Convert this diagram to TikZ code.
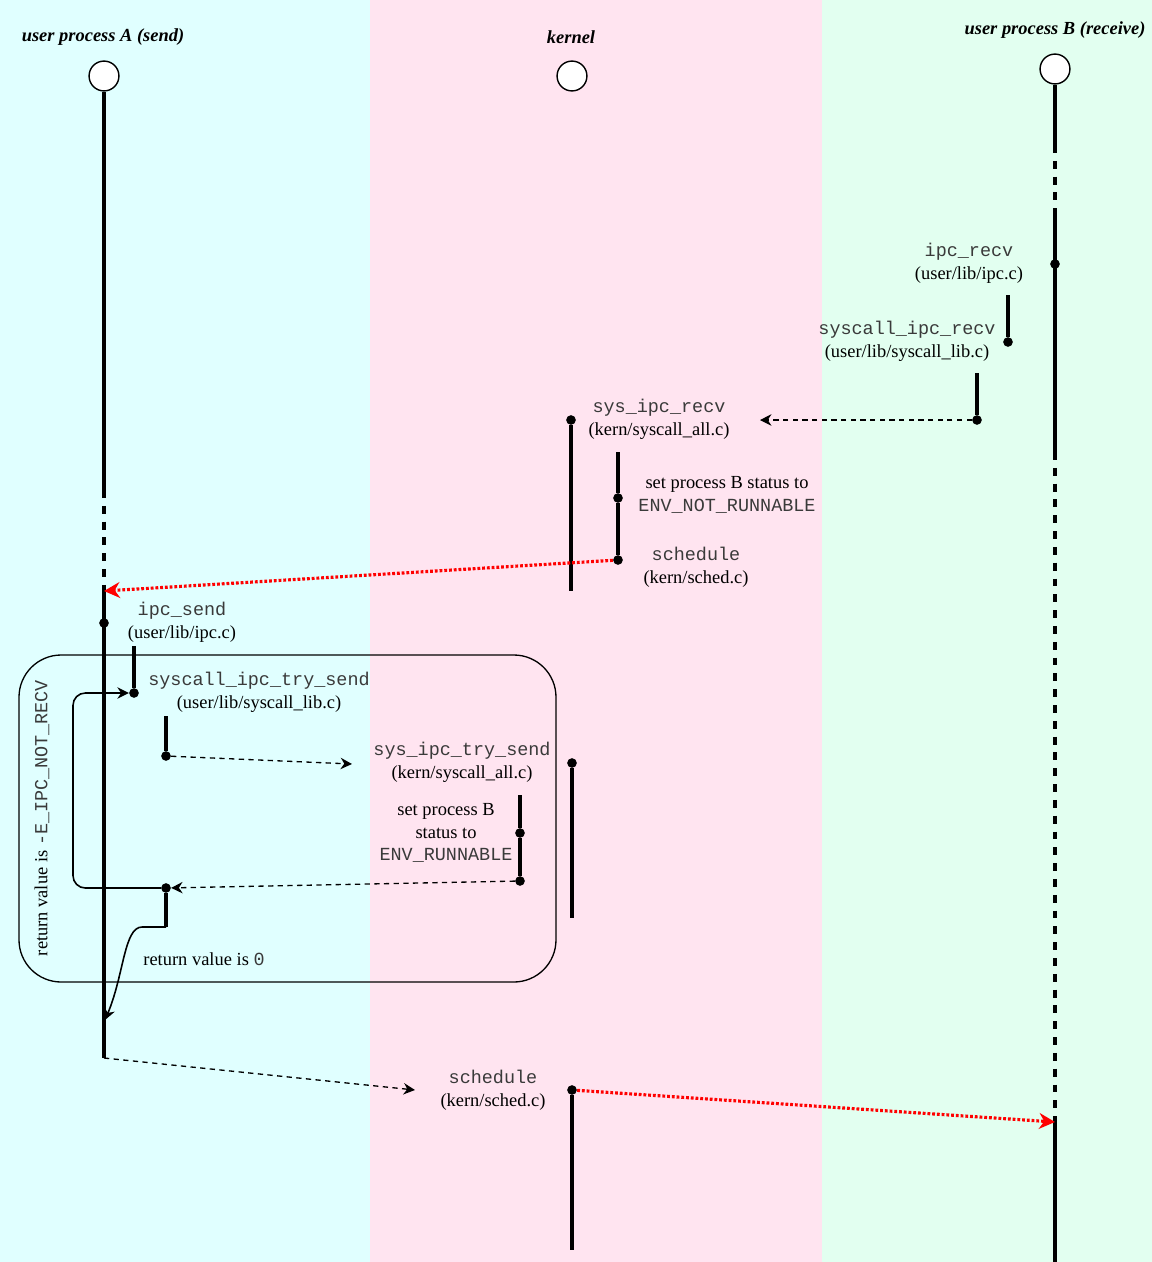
\documentclass[tikz,border=0pt]{standalone}
\usepackage{fontspec}
\setmainfont{Liberation Serif}
\setmonofont[Color=3A3A3A]{Liberation Mono}
\usetikzlibrary{arrows.meta}

\definecolor{userbg}{RGB}{224,255,255}
\definecolor{kernbg}{RGB}{255,228,240}
\definecolor{recvbg}{RGB}{226,255,240}
\newcommand{\lblfont}{\fontsize{10.5}{13}\selectfont}

\tikzset{
  lifeline/.style={line width=2pt},
  waitline/.style={line width=2pt, dash pattern=on 4.5pt off 4.5pt},
  callbar/.style={line width=1.9pt},
  calldot/.style={circle, fill, inner sep=0pt, minimum size=5.5pt},
  headcircle/.style={circle, draw, fill=white, line width=0.8pt, minimum size=17pt, inner sep=0pt},
  headtitle/.style={font=\lblfont\bfseries\itshape},
  fnlabel/.style={align=center, font=\lblfont, inner sep=0pt},
  callarrow/.style={line width=0.75pt, dash pattern=on 3pt off 2.5pt, -{Stealth[length=6.5pt,width=6.5pt]}},
  switcharrow/.style={red, line width=1.8pt, dash pattern=on 1.6pt off 1.1pt, -{Stealth[length=9pt,width=9pt]}},
  retline/.style={line width=0.9pt, -{Stealth[length=6.5pt,width=6.5pt]}}
}

\begin{document}
\begin{tikzpicture}[x=0.02cm, y=-0.02cm]
    \useasboundingbox (0,0) rectangle (1152,1262);
    % three columns
    \fill[userbg] (0,0) rectangle (370,1262);
    \fill[kernbg] (370,0) rectangle (822,1262);
    \fill[recvbg] (822,0) rectangle (1152,1262);

    \node[headtitle] (titleA) at (103,37) {user process A (send)};
    \node[headtitle] (titleK) at (571,37) {kernel};
    \node[headtitle] (titleB) at (1055,30) {user process B (receive)};

    \node[headcircle] (procA) at (104,76) {};
    \node[headcircle] (kern) at (572,76) {};
    \node[headcircle] (procB) at (1055,69) {};

    % process B
    \coordinate (bwait1) at (1055,145);
    \coordinate (brun1) at (1055,215);
    \coordinate (bwait2) at (1055,452);
    \coordinate (bwake) at (1055,1122);
    \coordinate (bend) at (1055,1262);
    \draw[lifeline] (procB.south) -- (bwait1);
    \draw[waitline] (bwait1) -- (brun1);
    \draw[lifeline] (brun1) -- (bwait2);
    \draw[waitline] (bwait2) -- (bwake);
    \draw[lifeline] (bwake) -- (bend);

    \node[calldot] (recvdot) at (1055,264) {};
    \node[fnlabel] (ipcrecv) at (969,263) {\texttt{ipc\_recv}\\(user/lib/ipc.c)};
    \coordinate (scrtop) at (1008,295);
    \node[calldot] (scrdot) at (1008,342) {};
    \draw[callbar] (scrtop) -- (scrdot);
    \node[fnlabel] (syscallrecv) at (907,341) {\texttt{syscall\_ipc\_recv}\\(user/lib/syscall\_lib.c)};
    \coordinate (trptop) at (977,373);
    \node[calldot] (trpdot) at (977,420) {};
    \draw[callbar] (trptop) -- (trpdot);

    % kernel, recv side
    \node[calldot] (krecvdot) at (571,420) {};
    \coordinate (krecvend) at (571,591);
    \draw[callbar] (krecvdot) -- (krecvend);
    \node[fnlabel] (sysrecv) at (659,419) {\texttt{sys\_ipc\_recv}\\(kern/syscall\_all.c)};
    \coordinate (recvtip) at (760,420);
    \draw[callarrow] (trpdot) -- (recvtip);
    \coordinate (settop) at (618,452);
    \node[calldot] (setdot) at (618,498) {};
    \node[calldot] (scheddot) at (618,560) {};
    \draw[callbar] (settop) -- (setdot) -- (scheddot);
    \node[fnlabel] (setnr) at (727,495) {set process B status to\\\texttt{ENV\_NOT\_RUNNABLE}};
    \node[fnlabel] (sched1) at (696,567) {\texttt{schedule}\\(kern/sched.c)};

    % process A
    \coordinate (await) at (104,490);
    \coordinate (arun) at (104,591);
    \coordinate (aend) at (104,1058);
    \draw[lifeline] (procA.south) -- (await);
    \draw[waitline] (await) -- (arun);
    \draw[lifeline] (arun) -- (aend);
    \draw[switcharrow] (scheddot) -- (arun);

    \node[calldot] (senddot) at (104,623) {};
    \node[fnlabel] (ipcsend) at (182,622) {\texttt{ipc\_send}\\(user/lib/ipc.c)};
    \coordinate (trytop) at (134,646);
    \node[calldot] (trydot) at (134,693) {};
    \draw[callbar] (trytop) -- (trydot);
    \node[fnlabel] (syscalltry) at (259,692) {\texttt{syscall\_ipc\_try\_send}\\(user/lib/syscall\_lib.c)};
    \coordinate (traptop) at (166,716);
    \node[calldot] (trapdot) at (166,756) {};
    \draw[callbar] (traptop) -- (trapdot);
    \coordinate (trytip) at (352,764);
    \draw[callarrow] (trapdot) -- (trytip);

    % kernel, send side
    \node[calldot] (ktrydot) at (572,763) {};
    \coordinate (ktryend) at (572,918);
    \draw[callbar] (ktrydot) -- (ktryend);
    \node[fnlabel] (systry) at (462,762) {\texttt{sys\_ipc\_try\_send}\\(kern/syscall\_all.c)};
    \coordinate (wktop) at (520,795);
    \node[calldot] (wkdot) at (520,833) {};
    \node[calldot] (wkret) at (520,881) {};
    \draw[callbar] (wktop) -- (wkdot) -- (wkret);
    \node[fnlabel] (setr) at (446,833) {set process B\\status to\\\texttt{ENV\_RUNNABLE}};

    \node[calldot] (retdot) at (166,888) {};
    \draw[callarrow] (wkret) -- (retdot);

    % retry loop
    \draw[rounded corners=24pt, black, line width=0.75pt] (19,655) rectangle (556,982);
    \coordinate (loopx) at (73,0);
    \draw[retline, rounded corners=7pt] (retdot) -- (retdot -| loopx) -- (trydot -| loopx) -- (trydot);
    \node[rotate=90, font=\lblfont] (retneg) at (42,818) {return value is \texttt{-E\_IPC\_NOT\_RECV}};

    \coordinate (retbend) at (166,927);
    \coordinate (retout) at (142,927);
    \coordinate (rettip) at (105,1020);
    \draw[callbar] (retdot) -- (retbend);
    \draw[retline] (retbend) -- (retout) .. controls (124,927) and (124,975) .. (rettip);
    \node[font=\lblfont] (retzero) at (204,959) {return value is \texttt{0}};

    % yield to kernel, then to B
    \coordinate (yieldtip) at (415,1090);
    \draw[callarrow] (aend) -- (yieldtip);
    \node[fnlabel] (sched2) at (493,1090) {\texttt{schedule}\\(kern/sched.c)};
    \node[calldot] (kscheddot) at (572,1090) {};
    \coordinate (kschedend) at (572,1250);
    \draw[callbar] (kscheddot) -- (kschedend);
    \draw[switcharrow] (kscheddot) -- (bwake);
\end{tikzpicture}
\end{document}
